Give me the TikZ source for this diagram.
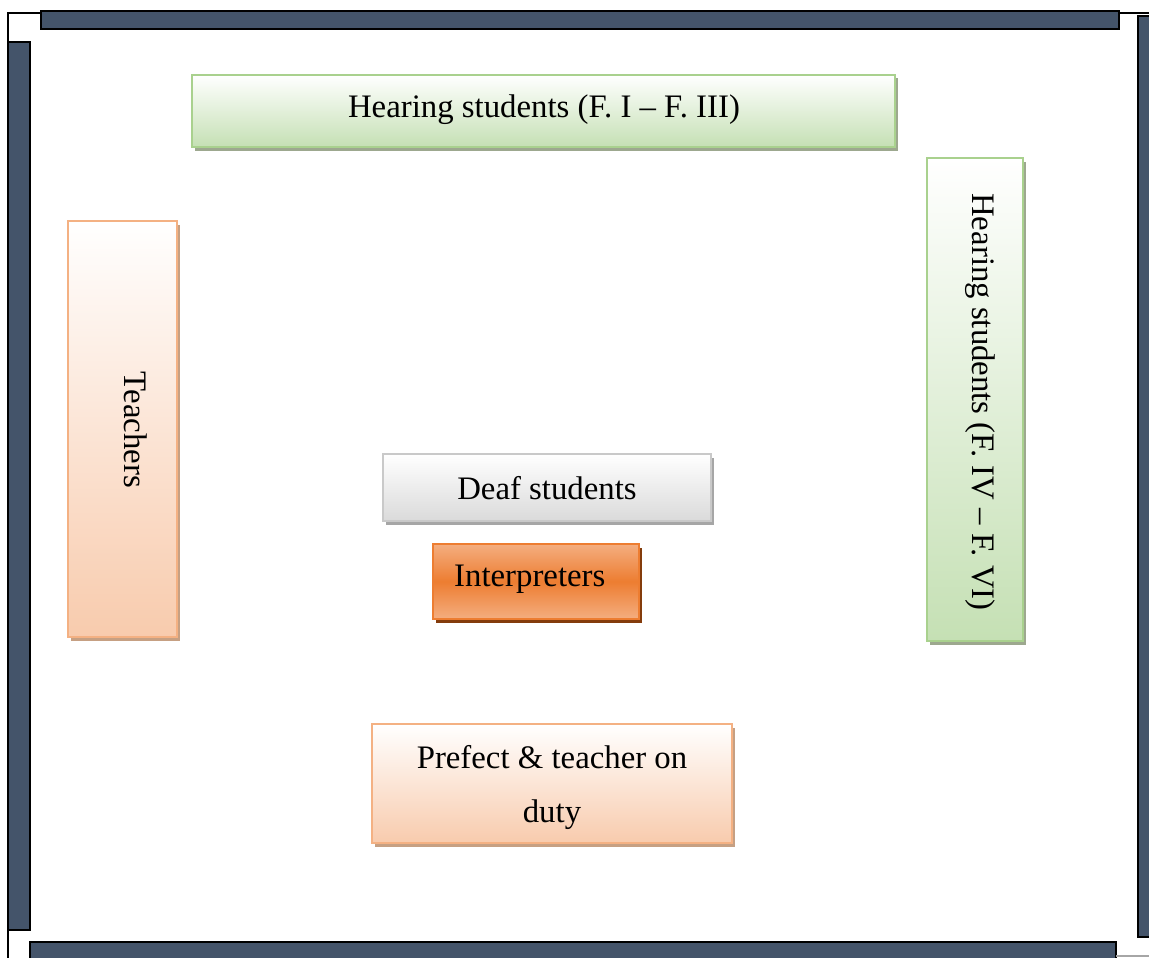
\documentclass[tikz,border=0pt]{standalone}
\usepackage{fontspec}
\setmainfont{Liberation Serif}
\usetikzlibrary{shadows}
\definecolor{wallfill}{HTML}{44546A}
\definecolor{greenedge}{HTML}{A9D18E}
\definecolor{greenfill}{HTML}{C5E0B4}
\definecolor{greenshadow}{HTML}{9DA88F}
\definecolor{peachedge}{HTML}{F4B183}
\definecolor{peachfill}{HTML}{F8CBAD}
\definecolor{peachshadow}{HTML}{C6A083}
\definecolor{grayedge}{HTML}{C9C9C9}
\definecolor{grayfill}{HTML}{DADADA}
\definecolor{grayshadow}{HTML}{A6A6A6}
\definecolor{orangemid}{HTML}{ED7D31}
\definecolor{orangelight}{HTML}{F4AE80}
\definecolor{orangeshadow}{HTML}{843C0C}
\tikzset{
  wall/.style={draw=black, line width=1.6pt, fill=wallfill},
  thin wall/.style={draw=black, line width=1.6pt},
  box/.style={rectangle, inner sep=0pt, line width=2.4pt},
  greenbox/.style={box, draw=greenedge, top color=white, bottom color=greenfill,
    general shadow={shadow xshift=3pt, shadow yshift=-3.5pt, fill=greenshadow}},
  peachbox/.style={box, draw=peachedge, top color=white, bottom color=peachfill,
    general shadow={shadow xshift=3pt, shadow yshift=-3.5pt, fill=peachshadow}},
  graybox/.style={box, draw=grayedge, top color=white, bottom color=grayfill,
    general shadow={shadow xshift=3pt, shadow yshift=-3.5pt, fill=grayshadow}},
  orangebox/.style={box, draw=orangemid, top color=orangelight, bottom color=orangelight, middle color=orangemid,
    general shadow={shadow xshift=3pt, shadow yshift=-3.5pt, fill=orangeshadow}},
  label text/.style={inner sep=0pt, font=\fontsize{32.8}{36}\selectfont},
}
\begin{document}
\begin{tikzpicture}[x=1pt,y=-1pt]
  \useasboundingbox (0,0) rectangle (1149,958);
  \fill[white] (0,0) rectangle (1149,958);

  % walls of the room
  \draw[wall] (41,11) rectangle (1119,29);
  \draw[wall] (8,42) rectangle (30,930);
  \draw[wall] (30,942) rectangle (1116,962);
  \draw[wall] (1138,16) rectangle (1155,937);
  \draw[thin wall] (41,13) -- (8,13) -- (8,42);
  \draw[thin wall] (8,930) -- (8,958);
  \draw[thin wall] (1119,13) -- (1149,13);
  \draw[draw=gray!70, line width=1.2pt] (1116,956) -- (1149,956);

  % seating blocks
  \node[greenbox, minimum width=703pt, minimum height=72pt] (hearA) at (543.5,111) {};
  \node[label text] (hearAtxt) at (544,110) {Hearing students (F.\ I -- F.\ III)};

  \node[peachbox, minimum width=109pt, minimum height=416pt] (teach) at (122.5,429) {};
  \node[label text, rotate=-90] (teachtxt) at (136,430) {Teachers};

  \node[greenbox, minimum width=96pt, minimum height=483pt] (hearB) at (975,399.5) {};
  \node[label text, rotate=-90] (hearBtxt) at (980,402) {Hearing students (F.\ IV -- F.\ VI)};

  \node[graybox, minimum width=328pt, minimum height=67pt] (deaf) at (547,487.5) {};
  \node[label text] (deaftxt) at (547,488) {Deaf students};

  \node[orangebox, minimum width=206pt, minimum height=75pt] (interp) at (536,581.5) {};
  \node[label text, anchor=west] (interptxt) at (454,579) {Interpreters};

  \node[peachbox, minimum width=360pt, minimum height=119pt] (prefect) at (552,783.5) {};
  \node[label text] (prefecttxt1) at (552,757) {Prefect \& teacher on};
  \node[label text] (prefecttxt2) at (552,815) {duty};
\end{tikzpicture}
\end{document}
